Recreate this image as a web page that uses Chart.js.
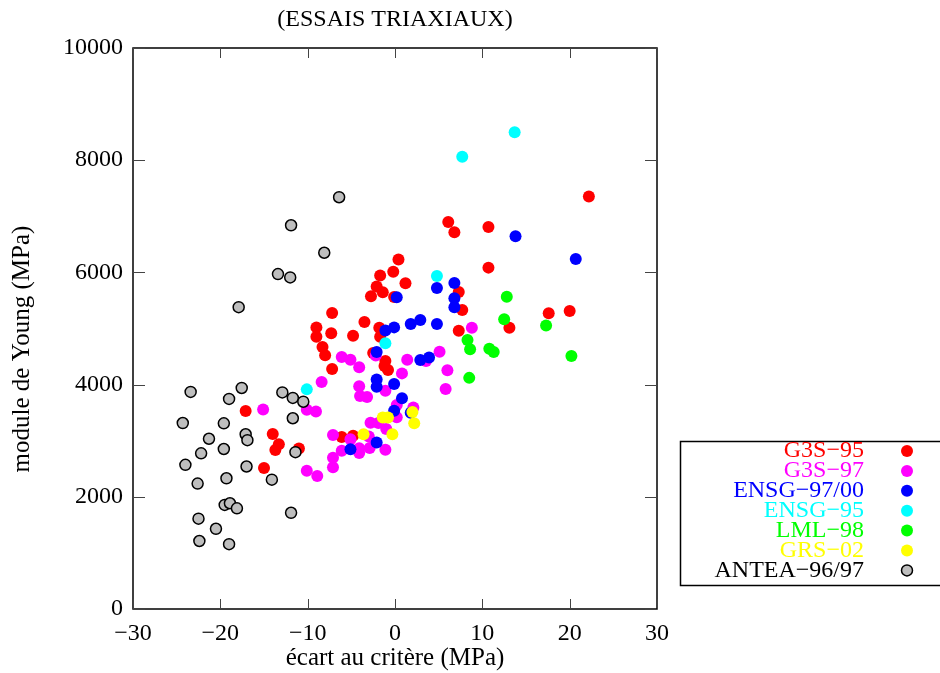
<!DOCTYPE html>
<html>
<head>
<meta charset="utf-8">
<script src="https://cdn.jsdelivr.net/npm/chart.js@4/dist/chart.umd.min.js"></script>
<style>
  html, body { margin: 0; padding: 0; background: #fff; }
  #wrap { width: 940px; height: 673px; }
</style>
</head>
<body>
<div id="wrap"><canvas id="scatter"></canvas></div>
<script>
// -- Data (x = écart au critère, y = module de Young) --
const seriesNames = ["G3S\u221295", "G3S\u221297", "ENSG\u221297/00", "ENSG\u221295", "LML\u221298", "GRS\u221202", "ANTEA\u221296/97"];
const seriesColors = ["#ff0000", "#ff00ff", "#0000ff", "#00ffff", "#00ff00", "#ffff00", "#bebebe"];

const g3s95X = [0.4, -0.2, -1.7, 1.2, -2.1, -1.4, -2.75, -0.1, 7.3, 7.7, -7.2, -3.5, -9.0, -9.0, -7.3, -4.8, -1.8, -1.7, 7.3, -8.3, -8.0, -2.5, -7.2, -1.1, -1.2, -0.8, 6.1, 6.8, 10.7, 10.7, 22.2, 17.6, 20.0, 13.1, -6.1, -4.8, -17.1, -14.0, -13.3, -13.7, -11.0, -15.0];
const g3s95Y = [6230, 6010, 5945, 5805, 5750, 5645, 5575, 5560, 5650, 5330, 5275, 5115, 5020, 4855, 4915, 4870, 5015, 4855, 4958, 4670, 4525, 4565, 4280, 4420, 4330, 4260, 6900, 6715, 6810, 6085, 7355, 5270, 5310, 5015, 3065, 3090, 3528, 3120, 2935, 2835, 2860, 2515];

const g3s97X = [-6.1, -5.1, -4.1, 1.4, 5.1, 8.8, 6.0, 5.8, 3.55, 0.8, -4.1, -1.1, -4.0, -3.2, 0.2, 2.1, 0.2, -2.8, -1.9, -1.0, -3.0, -7.1, -5.1, -1.1, -2.9, -4.1, -4.1, -6.1, -7.1, -7.1, -10.1, -8.9, -8.4, -10.1, -9.05, -15.1, -2.2];
const g3s97Y = [4490, 4445, 4310, 4445, 4585, 5015, 4255, 3920, 4420, 4200, 3970, 3890, 3795, 3780, 3635, 3590, 3420, 3320, 3315, 3210, 3075, 3100, 3025, 2840, 2870, 2865, 2780, 2820, 2695, 2525, 2465, 2370, 4045, 3550, 3520, 3558, 4520];

const ensg9700X = [0.2, 4.8, 6.8, 6.8, 6.8, -1.1, -0.1, 1.8, 2.9, 4.8, -2.1, 2.9, 3.9, -2.1, -2.1, -0.1, 0.8, -0.1, 1.8, -2.1, -5.1, 13.8, 20.7];
const ensg9700Y = [5555, 5720, 5810, 5540, 5380, 4965, 5020, 5080, 5150, 5080, 4582, 4437, 4483, 4090, 3963, 4012, 3755, 3535, 3500, 2970, 2847, 6645, 6240];

const ensg95X = [13.7, 7.7, 4.8, -1.1, -10.1];
const ensg95Y = [8500, 8060, 5935, 4735, 3915];

const lml98X = [12.8, 12.5, 17.3, 8.3, 8.6, 10.8, 11.3, 20.2, 8.5];
const lml98Y = [5565, 5165, 5055, 4795, 4630, 4640, 4580, 4510, 4120];

const grs02X = [2.0, 2.2, -1.4, -0.8, -0.3, -3.6];
const grs02Y = [3510, 3310, 3415, 3415, 3115, 3115];

const anteaX = [-6.4, -11.9, -8.1, -13.4, -12.0, -17.9, -23.4, -17.55, -19.0, -24.3, -19.6, -21.3, -17.1, -16.9, -22.2, -19.6, -24.0, -17.0, -22.6, -19.3, -14.1, -19.5, -18.9, -18.1, -11.9, -22.5, -20.5, -22.4, -19.0, -12.9, -11.7, -10.5, -11.7, -11.4];
const anteaY = [7340, 6840, 6350, 5970, 5910, 5380, 3870, 3940, 3745, 3315, 3310, 3035, 3115, 3010, 2775, 2852, 2570, 2540, 2235, 2330, 2305, 1855, 1885, 1795, 1715, 1610, 1430, 1212, 1155, 3860, 3763, 3695, 3400, 2795];

const xTicks = [-30, -20, -10, 0, 10, 20, 30];
const yTicks = [0, 2000, 4000, 6000, 8000, 10000];

const FONT = "'Liberation Serif', 'DejaVu Serif', serif";

// -- Helpers --
let pairs = function(xs, ys) {
  return xs.map((x, i) => ({x: x, y: ys[i]}));
}

const allX = [g3s95X, g3s97X, ensg9700X, ensg95X, lml98X, grs02X, anteaX];
const allY = [g3s95Y, g3s97Y, ensg9700Y, ensg95Y, lml98Y, grs02Y, anteaY];

let datasets = seriesNames.map((name, i) => {
  let grey = i === 6;
  return {
    label: name,
    data: pairs(allX[i], allY[i]),
    backgroundColor: seriesColors[i],
    borderColor: grey ? "#000" : seriesColors[i],
    borderWidth: grey ? 1.5 : 0,
    pointRadius: grey ? 5.5 : 6,
    pointHoverRadius: 6,
    // later series drawn on top, as in the original plot
    order: seriesNames.length - i
  }
});

let minus = v => String(v).replace("-", "\u2212");

// frame + inward ticks on all four sides, title, y label and key
const framePlugin = {
  id: "frame",
  beforeDatasetsDraw(chart) {
    const {ctx, chartArea: a, scales} = chart;
    ctx.save();
    ctx.strokeStyle = "#000";
    ctx.lineWidth = 1.5;
    ctx.strokeRect(a.left, a.top, a.right - a.left, a.bottom - a.top);
    ctx.lineWidth = 1;
    ctx.strokeStyle = "#444";
    ctx.beginPath();
    for (let v of xTicks) {
      let px = Math.round(scales.x.getPixelForValue(v)) + 0.5;
      ctx.moveTo(px, a.bottom); ctx.lineTo(px, a.bottom - 10);
      ctx.moveTo(px, a.top); ctx.lineTo(px, a.top + 10);
    }
    for (let v of yTicks) {
      let py = Math.round(scales.y.getPixelForValue(v)) + 0.5;
      ctx.moveTo(a.left, py); ctx.lineTo(a.left + 12, py);
      ctx.moveTo(a.right, py); ctx.lineTo(a.right - 12, py);
    }
    ctx.stroke();
    ctx.restore();
  },
  afterDraw(chart) {
    const {ctx, chartArea: a} = chart;
    ctx.save();
    ctx.fillStyle = "#000";
    ctx.font = "24px " + FONT;
    ctx.textAlign = "center";
    ctx.textBaseline = "middle";
    ctx.fillText("(ESSAIS TRIAXIAUX)", (a.left + a.right) / 2, 20);

    // y label, sits a bit below the plot centre in the original
    ctx.save();
    ctx.translate(22, 349);
    ctx.rotate(-Math.PI / 2);
    ctx.font = "25px " + FONT;
    ctx.fillText("module de Young (MPa)", 0, 0);
    ctx.restore();

    // key box, bottom right
    ctx.font = "24px " + FONT;
    ctx.strokeStyle = "#000";
    ctx.lineWidth = 1.5;
    ctx.strokeRect(680.5, 441.5, 300, 144);
    ctx.textAlign = "right";
    seriesNames.forEach((name, i) => {
      let y = 451 + i * 19.9;
      ctx.fillStyle = i === 6 ? "#000" : seriesColors[i];
      ctx.fillText(name, 864, y);
      ctx.beginPath();
      ctx.arc(907, y, i === 6 ? 5.5 : 6, 0, Math.PI * 2);
      ctx.fillStyle = seriesColors[i];
      ctx.fill();
      if (i === 6) {
        ctx.lineWidth = 1.5;
        ctx.strokeStyle = "#000";
        ctx.stroke();
      }
    });
    ctx.restore();
  }
}

let chart = new Chart(document.getElementById("scatter"), {
  type: "scatter",
  data: { datasets: datasets },
  plugins: [framePlugin],
  options: {
    responsive: true,
    maintainAspectRatio: false,
    animation: false,
    events: [],
    layout: { padding: { top: 48, right: 283, left: 0, bottom: 0 } },
    plugins: {
      legend: { display: false },
      title: { display: false },
      tooltip: { enabled: false }
    },
    scales: {
      x: {
        type: "linear",
        min: -30, max: 30,
        afterFit: s => { s.height = 64 },
        afterBuildTicks: s => { s.ticks = xTicks.map(v => ({value: v})) },
        grid: { display: false, drawTicks: false },
        border: { display: false },
        ticks: { color: "#000", font: { family: FONT, size: 24 }, padding: 10, callback: minus, maxRotation: 0 },
        title: { display: true, text: "écart au critère (MPa)", color: "#000", font: { family: FONT, size: 25 }, padding: { top: 0, bottom: 0 } }
      },
      y: {
        type: "linear",
        min: 0, max: 10000,
        afterFit: s => { s.width = 133 },
        afterBuildTicks: s => { s.ticks = yTicks.map(v => ({value: v})) },
        grid: { display: false, drawTicks: false },
        border: { display: false },
        ticks: { color: "#000", font: { family: FONT, size: 24 }, padding: 10, callback: minus },
        title: { display: false }
      }
    }
  }
});
</script>
</body>
</html>
